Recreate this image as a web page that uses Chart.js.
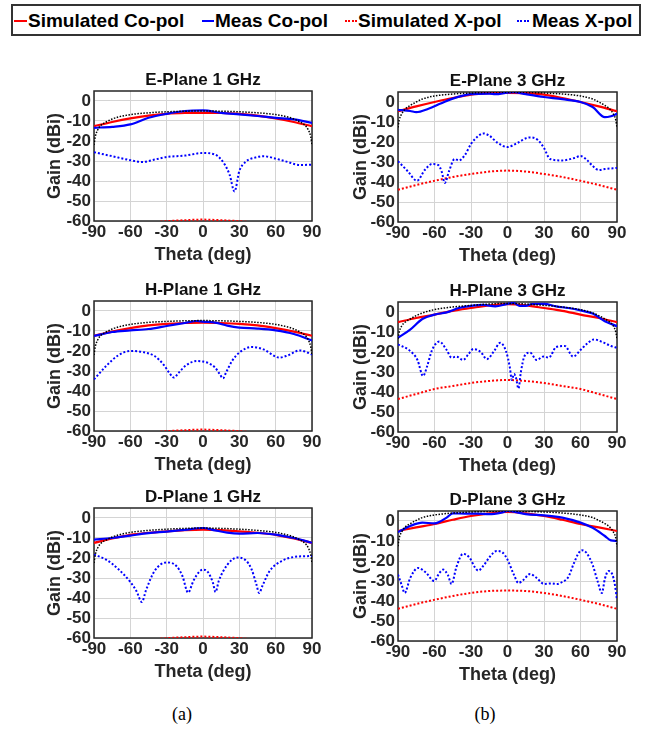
<!DOCTYPE html>
<html>
<head>
<meta charset="utf-8">
<script src="https://cdn.jsdelivr.net/npm/chart.js@4.4.1/dist/chart.umd.min.js"></script>
<style>
  body { margin: 0; background: #fff; width: 655px; height: 729px; position: relative; overflow: hidden;
         font-family: "Liberation Sans", Arial, sans-serif; }
  #legend { position: absolute; left: 11px; top: 4px; width: 626px; height: 28px; border: 2px solid #333; background: #fff; }
  #legend .lt { position: absolute; top: 0; height: 28px; line-height: 30px; font-size: 19px; font-weight: bold; color: #000; white-space: nowrap; }
  #legend .sw { position: absolute; top: 14px; height: 0; }
  canvas { position: absolute; }
  .cap { position: absolute; top: 704px; width: 40px; margin-left: -20px; text-align: center;
         font-family: "Liberation Serif", "Times New Roman", serif; font-size: 18px; color: #000; }
</style>
</head>
<body>
<div id="legend">
  <span class="sw" style="left:1px;width:13px;border-top:2.5px solid #ff0000"></span>
  <span class="lt" style="left:15px">Simulated Co-pol</span>
  <span class="sw" style="left:189px;width:12px;border-top:2.5px solid #0000ff"></span>
  <span class="lt" style="left:202px">Meas Co-pol</span>
  <span class="sw" style="left:332px;width:12px;border-top:2px dotted #ff0000"></span>
  <span class="lt" style="left:345px">Simulated X-pol</span>
  <span class="sw" style="left:504px;width:12px;border-top:2px dotted #0000ff"></span>
  <span class="lt" style="left:519px">Meas X-pol</span>
</div>

<canvas id="e1"></canvas>
<canvas id="e3"></canvas>
<canvas id="h1"></canvas>
<canvas id="h3"></canvas>
<canvas id="d1"></canvas>
<canvas id="d3"></canvas>

<div class="cap" style="left:182px">(a)</div>
<div class="cap" style="left:485px">(b)</div>

<script>
"use strict";

// axis ticks
const thetaTicks = [-90, -60, -30, 0, 30, 60, 90];
const gainTicks = [-60, -50, -40, -30, -20, -10, 0];

// shared angle grids for the simulated curves
const simTheta = [-90, -75, -60, -45, -30, -15, 0, 15, 30, 45, 60, 75, 90];
const refTheta = [-90, -89, -87, -84, -80, -75, -70, -60, -45, -30, -15, 0, 15, 30, 45, 60, 70, 75, 80, 84, 87, 89, 90];

// ---- E-Plane 1 GHz
const e1SimCo = [-12.6, -10.5, -8.7, -7.3, -6.4, -6, -5.9, -6, -6.4, -7.3, -8.7, -10.5, -12.6];
const e1SimX = [-67, -64, -62, -61, -60.1, -59.6, -59.3, -59.6, -60.1, -61, -62, -64, -67];
const e1Ref = [-22, -18, -14.5, -12, -10.5, -9, -8, -6.8, -5.9, -5.4, -5.1, -5, -5.1, -5.4, -5.9, -6.8, -8, -9, -10.5, -12, -14.5, -18, -22];
const e1CoTheta = [-90, -75, -60, -45, -30, -15, 0, 15, 30, 45, 60, 75, 90];
const e1Co = [-13.4, -12.9, -11.7, -8.4, -6.4, -5, -4.7, -5.9, -6.7, -7.5, -8.4, -9.2, -10.9];
const e1XTheta = [-90, -75, -60, -50, -40, -30, -15, 0, 10, 18, 22, 26, 30, 35, 45, 50, 60, 70, 80, 90];
const e1X = [-25.6, -27.6, -29.6, -30.5, -29.3, -28, -27.3, -26, -26.8, -31.8, -36.9, -45.2, -35, -30.5, -28, -27.6, -28.8, -30.5, -32, -31.8];

// ---- E-Plane 3 GHz
const e3SimCo = [-4.6, -2.2, 0, 2, 3.7, 4.4, 4.6, 4.4, 3.7, 2, 0, -2.2, -4.6];
const e3SimX = [-43.9, -41.5, -39.4, -37.5, -36, -34.8, -34.3, -34.8, -36, -37.5, -39.4, -41.5, -43.9];
const e3Ref = [-12.7, -9, -6, -3.5, -1.7, 0, 1.5, 3, 4, 4.5, 4.8, 4.9, 4.8, 4.5, 4, 3, 1.5, 0, -1.7, -3.5, -6, -9, -12.7];
const e3CoTheta = [-90, -80, -75, -65, -55, -45, -30, -15, -10, 0, 5, 15, 30, 45, 60, 70, 80, 85, 90];
const e3Co = [-3.9, -4.5, -5.1, -3.4, -0.8, 1.7, 3.9, 4.2, 3.9, 4.7, 4.9, 3.9, 2.5, 1.4, 0, -2.5, -7.6, -7.1, -5.9];
const e3XTheta = [-90, -82, -74.4, -68, -62, -57, -54, -51.6, -48, -43.5, -40, -35, -30, -25, -20, -15, -8, 0, 8, 18, 25, 30, 35, 45, 55, 60, 65, 70, 75, 80, 90];
const e3X = [-29.6, -34.6, -39.4, -34, -31, -31.5, -35, -40.5, -34.5, -28.5, -29.2, -26.5, -21, -17.5, -15.7, -16.8, -20.5, -22.5, -20.5, -17.7, -19, -23, -28.5, -29.2, -28, -27, -28.8, -32, -34, -33.5, -33];

// ---- H-Plane 1 GHz
const h1SimCo = [-12.4, -10.3, -8.6, -7.2, -6.4, -6, -5.8, -6, -6.4, -7.2, -8.6, -10.3, -12.4];
const h1SimX = [-67, -64, -62, -61, -60.1, -59.6, -59.3, -59.6, -60.1, -61, -62, -64, -67];
const h1Ref = [-22, -18, -14.5, -12, -10.5, -9, -8, -6.7, -5.7, -5.2, -4.9, -4.8, -4.9, -5.2, -5.7, -6.7, -8, -9, -10.5, -12, -14.5, -18, -22];
const h1CoTheta = [-90, -75, -60, -45, -30, -15, -5, 0, 10, 20, 30, 45, 60, 75, 90];
const h1Co = [-12.5, -10.5, -9.7, -9, -7.5, -6, -5, -5.3, -5.8, -7.3, -8.3, -8.8, -9.7, -11.5, -14.7];
const h1XTheta = [-90, -80, -70, -60, -50, -40, -32, -28, -24, -20, -14, -5, 0, 5, 10, 14, 16.5, 19, 24, 30, 40, 50, 60, 63, 70, 80, 90];
const h1X = [-34.2, -27.5, -22.2, -20, -20.5, -22.5, -27.2, -30.8, -33.3, -30.8, -27.2, -25, -25.3, -26.2, -28.3, -31.7, -33.7, -30.8, -25, -20.8, -18, -19.2, -22.8, -23.3, -22.2, -19.7, -21.7];

// ---- H-Plane 3 GHz
const h3SimCo = [-5.1, -3, -1.3, 0.6, 2, 3.3, 3.9, 3.3, 2, 0.6, -1.3, -3, -5.1];
const h3SimX = [-43.5, -41, -38.5, -37, -35.5, -34.5, -34, -34.5, -35.5, -37, -38.5, -41, -43.5];
const h3Ref = [-13.4, -10, -7, -5, -3.5, -1.8, -0.5, 1.2, 2.5, 3.3, 4, 4.3, 4, 3.3, 2.5, 1.2, -0.5, -1.8, -3.5, -5, -7, -10, -13.4];
const h3CoTheta = [-90, -80, -70, -60, -50, -40, -30, -20, -10, 0, 5, 10, 15, 20, 30, 40, 50, 60, 70, 80, 90];
const h3Co = [-12.9, -8.8, -3.5, -1.3, -0.2, 2, 3.1, 3.6, 2.8, 4.1, 4.5, 3.1, 3.1, 4, 4.1, 2.8, 2, 0.8, -0.8, -4.6, -7.1];
const h3XTheta = [-90, -80, -74, -69.4, -66, -62, -56, -50, -46, -42, -36.5, -32, -28, -22, -17, -11, -6, -1, 2, 3.5, 5.4, 7, 9, 11, 14, 18.5, 24, 29.5, 34, 40, 47, 54, 60, 66, 71, 79, 85, 90];
const h3X = [-16.2, -19.5, -24, -32, -27, -19, -14.8, -19, -22.8, -22.3, -24, -21, -18.5, -20, -23.6, -19.5, -15.4, -20, -28, -34, -31, -33, -38.3, -30, -22, -20.3, -24, -22.3, -22.8, -17.5, -17, -22.3, -19, -15.5, -13.7, -15.3, -17, -17.9];

// ---- D-Plane 1 GHz
const d1SimCo = [-12.5, -10.2, -8.4, -7.4, -6.7, -6.1, -5.8, -6.1, -6.7, -7.4, -8.4, -10.2, -12.5];
const d1SimX = [-67, -64, -62, -61, -60.1, -59.6, -59.3, -59.6, -60.1, -61, -62, -64, -67];
const d1Ref = [-22.5, -18.5, -15, -12.5, -11, -9.5, -8.5, -7.2, -6.2, -5.6, -5.2, -5, -5.2, -5.6, -6.2, -7.2, -8.5, -9.5, -11, -12.5, -15, -18.5, -22.5];
const d1CoTheta = [-90, -75, -60, -45, -30, -15, 0, 10, 20, 30, 45, 60, 75, 90];
const d1Co = [-10.8, -10, -8.8, -7.6, -6.8, -5.9, -5, -6.2, -7.3, -7.8, -7.5, -8.3, -10, -12.4];
const d1XTheta = [-90, -80, -70, -60, -55, -50.5, -47, -40, -30, -22, -17, -12.3, -8, -3, 0, 4, 8, 10.4, 13, 20, 28, 35, 40, 44, 46.4, 49, 55, 65, 75, 90];
const d1X = [-18.3, -20.8, -25.5, -32, -36.5, -42, -36, -26.5, -22.2, -24, -29, -37.3, -31.5, -26.8, -25.8, -27, -32, -37, -31.5, -23.5, -19.8, -21, -25.5, -33, -37.5, -34, -26.5, -21.5, -19.5, -19];

// ---- D-Plane 3 GHz
const d3SimCo = [-5, -3.2, -1.5, 0.6, 2.5, 3.8, 4.5, 3.8, 2.5, 0.6, -1.5, -3.2, -5];
const d3SimX = [-43.9, -41.5, -39.4, -37.5, -36, -35, -34.8, -35, -36, -37.5, -39.4, -41.5, -43.9];
const d3Ref = [-12.6, -8.5, -5.5, -3, -1.3, 0.3, 1.7, 3, 4, 4.5, 4.8, 5, 4.8, 4.5, 4, 3, 1.7, 0.3, -1.3, -3, -5.5, -8.5, -12.6];
const d3CoTheta = [-90, -80, -70, -60, -50, -45, -35, -25, -15, -5, 0, 5, 15, 30, 45, 60, 70, 80, 85, 90];
const d3Co = [-5.5, -2.5, -0.8, -1.2, 1.7, 3.8, 3.7, 3.7, 3.4, 4.2, 5, 4.7, 3.4, 2.8, 1.7, -0.8, -3.4, -7.5, -9.7, -10];
const d3XTheta = [-90, -87, -84.5, -80, -73.5, -67, -60.3, -56, -52.9, -49, -46, -42, -36.5, -31, -27, -24, -20, -14, -9, -4, 0, 5, 9, 13, 18.5, 24, 30, 36, 40.5, 45, 50, 54, 58, 61, 65, 70, 74, 77.6, 80, 83, 86, 88, 90];
const d3X = [-26.8, -32, -36, -28.5, -23.5, -25.8, -30, -26, -24.3, -27, -31.5, -23, -16.4, -18.5, -23, -24.8, -22.5, -17.5, -15, -15.8, -19.3, -26.5, -31, -29.5, -26.5, -28.5, -31.5, -31.2, -31.5, -30.5, -28, -22, -16.5, -14.6, -16, -22, -30, -36, -29, -25, -26.5, -31, -39.4];

Chart.defaults.font.family = '"Liberation Sans", Arial, sans-serif';

const inkColor = "#262626";
const gridColor = "#d4d4d4";

// full frame round the plot area, like a MATLAB "box on"
const boxPlugin = {
  id: "box",
  beforeDatasetsDraw(chart) {
    const { ctx, chartArea } = chart;
    ctx.save();
    ctx.strokeStyle = inkColor;
    ctx.lineWidth = 1.5;
    ctx.strokeRect(chartArea.left, chartArea.top, chartArea.right - chartArea.left, chartArea.bottom - chartArea.top);
    ctx.restore();
  },
};

function pts(xs, ys) {
  return xs.map((x, i) => ({ x: x, y: ys[i] }));
}

function line(data, color, width, dash) {
  return {
    data: data,
    borderColor: color,
    backgroundColor: color,
    borderWidth: width,
    borderDash: dash,
    pointRadius: 0,
    cubicInterpolationMode: "monotone",
    fill: false,
  };
}

// plotLeft/plotTop: where the frame should land; yw: width kept for y ticks + title
function makePanel(id, title, plotLeft, plotTop, plotW, plotH, yw, s) {
  const titleH = 22, xh = 45, padR = 15;
  const canvas = document.getElementById(id);
  canvas.width = yw + plotW + padR;
  canvas.height = titleH + plotH + xh;
  canvas.style.left = (plotLeft - yw) + "px";
  canvas.style.top = (plotTop - titleH) + "px";

  new Chart(canvas, {
    type: "line",
    data: {
      datasets: [
        line(pts(refTheta, s.ref), "#000000", 1.5, [1.5, 1.5]),
        line(pts(s.coTheta, s.co), "#0000ff", 2.2, []),
        line(pts(simTheta, s.simCo), "#ff0000", 2.2, []),
        line(pts(s.xTheta, s.x), "#0000ff", 2, [2, 2]),
        line(pts(simTheta, s.simX), "#ff0000", 2, [2, 2]),
      ],
    },
    options: {
      responsive: false,
      animation: false,
      events: [],
      layout: { padding: { left: 0, top: 0, bottom: 0, right: padR } },
      scales: {
        x: {
          type: "linear",
          min: -90,
          max: 90,
          afterBuildTicks: (axis) => { axis.ticks = thetaTicks.map((v) => ({ value: v })); },
          afterFit: (axis) => { axis.height = xh; },
          ticks: { color: inkColor, font: { size: 17, weight: "bold" }, padding: 1, maxRotation: 0, autoSkip: false },
          grid: { color: gridColor, drawTicks: false },
          border: { display: false },
          title: { display: true, text: "Theta (deg)", color: inkColor, font: { size: 18, weight: "bold" }, padding: 0 },
        },
        y: {
          type: "linear",
          min: -60,
          max: 5,
          afterBuildTicks: (axis) => { axis.ticks = gainTicks.map((v) => ({ value: v })); },
          afterFit: (axis) => { axis.width = yw; },
          ticks: { color: inkColor, font: { size: 17, weight: "bold" }, padding: 3, autoSkip: false },
          grid: { color: gridColor, drawTicks: false },
          border: { display: false },
          title: { display: true, text: "Gain (dBi)", color: inkColor, font: { size: 18, weight: "bold" }, padding: 0 },
        },
      },
      plugins: {
        legend: { display: false },
        tooltip: { enabled: false },
        title: {
          display: true,
          text: title,
          fullSize: false,
          color: "#111111",
          font: { size: 17, weight: "bold", lineHeight: 20 / 17 },
          padding: { top: 1, bottom: 1 },
        },
      },
    },
    plugins: [boxPlugin],
  });
}

makePanel("e1", "E-Plane 1 GHz", 94, 91, 218, 130, 50,
  { ref: e1Ref, coTheta: e1CoTheta, co: e1Co, simCo: e1SimCo, xTheta: e1XTheta, x: e1X, simX: e1SimX });
makePanel("e3", "E-Plane 3 GHz", 398, 92, 219, 130, 48,
  { ref: e3Ref, coTheta: e3CoTheta, co: e3Co, simCo: e3SimCo, xTheta: e3XTheta, x: e3X, simX: e3SimX });
makePanel("h1", "H-Plane 1 GHz", 94, 301, 218, 130, 50,
  { ref: h1Ref, coTheta: h1CoTheta, co: h1Co, simCo: h1SimCo, xTheta: h1XTheta, x: h1X, simX: h1SimX });
makePanel("h3", "H-Plane 3 GHz", 398, 302, 219, 130, 48,
  { ref: h3Ref, coTheta: h3CoTheta, co: h3Co, simCo: h3SimCo, xTheta: h3XTheta, x: h3X, simX: h3SimX });
makePanel("d1", "D-Plane 1 GHz", 94, 508, 218, 130, 50,
  { ref: d1Ref, coTheta: d1CoTheta, co: d1Co, simCo: d1SimCo, xTheta: d1XTheta, x: d1X, simX: d1SimX });
makePanel("d3", "D-Plane 3 GHz", 398, 511, 219, 130, 48,
  { ref: d3Ref, coTheta: d3CoTheta, co: d3Co, simCo: d3SimCo, xTheta: d3XTheta, x: d3X, simX: d3SimX });
</script>
</body>
</html>
